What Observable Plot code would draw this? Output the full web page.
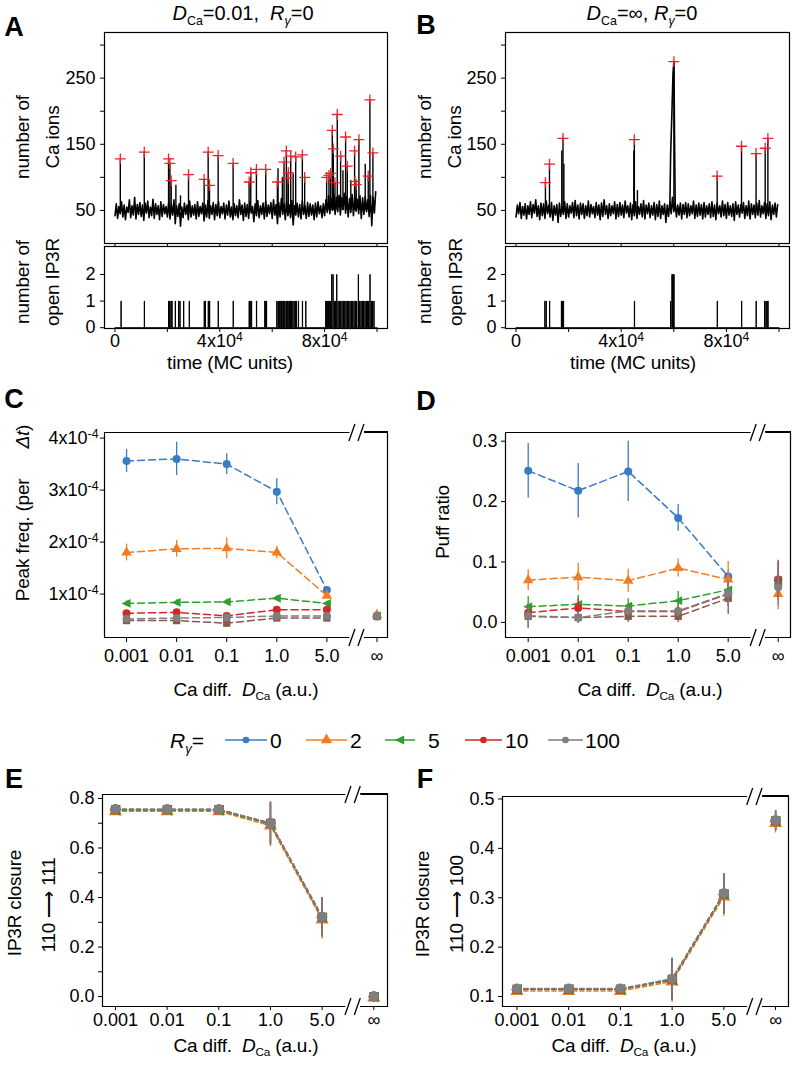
<!DOCTYPE html>
<html><head><meta charset="utf-8">
<script src="https://cdn.jsdelivr.net/npm/d3@7"></script>
<script src="https://cdn.jsdelivr.net/npm/@observablehq/plot@0.6"></script>
<style>
body{margin:0;background:#fff;}
#fig{position:relative;width:792px;height:1065px;font-family:"Liberation Sans",Arial,Helvetica,sans-serif;color:#000;overflow:hidden;background:#fff;}
.abs{position:absolute;white-space:nowrap;line-height:1;}
.letter{font-weight:bold;font-size:27px;}
.title{font-size:20px;}
.lab{font-size:19px;letter-spacing:-0.2px;}
.leg{font-size:21px;}
.sub{font-size:0.62em;position:relative;top:0.38em;}
.rframe{position:absolute;box-sizing:border-box;border:1.2px solid #000;border-left:0;z-index:10;pointer-events:none;}
</style></head><body><div id="fig"></div>
<script>
// ================= DATA =================
// Panels A/B : simulated traces (sampled every traceStep MC units)
const traceStep = 500;
const traceA = [42,60,38,56,45,63,40,58,36,55, 47,66,39,57,43,70,37,59,44,62, 41,58,35,61,46,64,39,55,42,67,
 38,60,44,57,36,63,41,59,45,56, 40,62,37,58,43,66,30,57,41,60, 26,55,39,61,44,58,36,64,40,57,
 43,59,37,63,41,56,45,61,34,58, 40,65,38,57,44,62,36,59,42,63, 39,56,45,61,37,58,43,64,40,55,
 36,60,42,57,39,66,44,58,35,61, 41,59,38,63,46,56,33,60,42,65, 39,57,44,61,37,64,41,58,45,62,
 38,66,43,59,30,62,40,68,44,60, 36,63,42,58,39,65,28,57,43,61, 40,59,37,64,44,57,38,62,41,60,
 43,58,36,61,40,63,45,57,39,60, 42,66,47,72,45,68,50,75,44,70, 48,73,43,69,51,76,46,71,40,68,
 47,74,42,70,49,67,45,72,38,69, 44,71,48,66,41,73,27,70,46,78];
const traceB = [40,58,45,62,38,56,43,60,37,57, 44,63,39,59,46,66,41,57,36,61, 42,60,38,64,45,58,40,62,35,57,
 43,59,32,61,41,56,44,63,38,60, 40,57,46,62,39,65,42,58,37,61, 44,60,38,57,42,64,40,59,45,56,
 39,62,43,58,36,61,41,66,44,57, 38,60,42,57,45,63,37,59,41,62, 43,58,39,64,46,57,40,61,36,59,
 42,63,38,56,44,60,40,65,37,58, 45,61,39,57,43,62,36,59,41,64, 38,57,44,60,32,58,41,63,45,70,
 48,62,40,58,43,61,37,59,44,62, 39,60,42,57,45,64,38,58,41,61, 43,59,37,62,40,57,44,60,39,63,
 41,58,36,61,45,57,40,64,42,59, 38,62,43,57,41,60,35,63,44,58, 40,59,46,62,38,57,42,64,37,60,
 44,58,39,61,43,65,40,57,45,62, 38,60,42,63,36,58,44,61,40,59];
// detected peaks (red crosses): [time, number of Ca ions]
const peaksA = [[2032,128],[11176,138],[20447,128],[20955,121],[21463,95],[28067,104],[34036,97],[35560,138],
 [36068,88],[39370,133],[45085,121],[51181,93],[51816,107],[53975,112],[57531,112],[61976,93],[64516,123],
 [65405,140],[66167,107],[66040,99],[67056,132],[68961,131],[71501,134],[72390,100],[80772,100],[81661,103],
 [82296,106],[82931,171],[83312,143],[83947,92],[84836,195],[86106,132],[88011,161],[88646,117],[91440,140],
 [91567,94],[92075,89],[93091,157],[96647,102],[97282,217],[98425,137]];
const minorSpikesA = [[23241,88],[25000,72],[62230,113],[63881,100],[68000,105],[87000,110],[90000,95],[95500,120]];
const peaksB = [[11185,92],[12728,120],[17871,159],[45000,157],[60044,275],[76496,102],[85751,147],[91284,136],
 [94755,144],[95784,159]];
const minorSpikesB = [[17400,140],[18200,120],[44800,140],[46165,80]];
const bigEventB = [[58500,55],[58800,135],[59300,200],[59700,258],[60044,275],[60300,150],[60550,55]];
// IP3R openings: [start time, number open]
const openDuration = 100;
const openA = [[2286,1],[11176,1],[20447,1],[20828,1],[21336,1],[21717,1],[22987,1],[24257,1],[24765,1],[26162,1],
 [28321,1],[34036,1],[34417,1],[35560,1],[36068,1],[39370,1],[45085,1],[51181,1],[51562,1],[52070,1],[53975,1],
 [57150,1],[57404,1],[57785,1],[61722,1],[62230,1],[62611,1],[62992,1],[63500,1],[64008,1],[64389,1],[64770,1],
 [65278,1],[65659,1],[66040,1],[66548,1],[66929,1],[67310,1],[67818,1],[68326,1],[68834,1],[69215,1],[69977,1],
 [71501,1],[72771,1],[80391,1],[80772,1],[81153,1],[81534,1],[81915,1],[82296,1],[82677,2],[83185,2],[83693,1],
 [84074,1],[84582,2],[85090,1],[85598,1],[86106,1],[86614,1],[87122,1],[87630,1],[88138,1],[88646,1],[89154,1],
 [89662,1],[90170,1],[90678,1],[91186,1],[91694,1],[92202,1],[92837,2],[93345,1],[93853,1],[94361,1],[94869,1],
 [95377,1],[95885,1],[96393,1],[96774,1],[97282,2],[97790,1],[98298,1],[98806,1]];
const openB = [[10928,1],[11442,1],[12728,1],[17228,1],[17613,1],[17999,1],[44998,1],[58755,1],[59270,2],
 [59520,2],[59770,2],[60020,2],[76497,1],[85755,1],[91284,1],[94497,1],[95011,1],[95397,1],[95782,1]];
const timeTicks = [0,20000,40000,60000,80000,100000];
const timeLabelTicks = [0,40000,80000];
const caTicks = [50,100,150,200,250,300];
const caLabelTicks = [50,150,250];
const ip3rTicks = [0,1,2];

// Panels C-F : summary statistics vs Ca diffusion (rows = R_gamma series)
const dcaCategories = ["0.001","0.01","0.1","1.0","5.0","∞"];
const finiteCount = 5;
const rgammaLabels = ["0","2","5","10","100"];
const seriesColors = ["#3a7cc3","#f47c20","#2ca02c","#d62728","#7f7f7f","#8c564b"];
const peakFreqMean = [
 [3.56e-4,3.60e-4,3.50e-4,2.97e-4,1.08e-4,0.57e-4],
 [1.80e-4,1.87e-4,1.88e-4,1.80e-4,0.97e-4,0.60e-4],
 [0.82e-4,0.84e-4,0.85e-4,0.92e-4,0.82e-4,0.58e-4],
 [0.63e-4,0.65e-4,0.58e-4,0.70e-4,0.70e-4,0.58e-4],
 [0.52e-4,0.54e-4,0.55e-4,0.58e-4,0.58e-4,0.58e-4],
 [0.49e-4,0.49e-4,0.44e-4,0.54e-4,0.54e-4,0.57e-4]];
const peakFreqErr = [
 [0.22e-4,0.32e-4,0.20e-4,0.25e-4,0.05e-4,0.03e-4],
 [0.16e-4,0.16e-4,0.20e-4,0.12e-4,0.05e-4,0.03e-4],
 [0.05e-4,0.05e-4,0.05e-4,0.05e-4,0.04e-4,0.03e-4],
 [0.05e-4,0.05e-4,0.05e-4,0.05e-4,0.04e-4,0.03e-4],
 [0.04e-4,0.04e-4,0.04e-4,0.04e-4,0.04e-4,0.03e-4],
 [0.04e-4,0.04e-4,0.04e-4,0.04e-4,0.04e-4,0.03e-4]];
const puffRatioMean = [
 [0.251,0.218,0.250,0.173,0.076,0.062],
 [0.070,0.075,0.069,0.090,0.071,0.047],
 [0.026,0.030,0.027,0.036,0.054,0.069],
 [0.016,0.024,0.018,0.018,0.047,0.071],
 [0.011,0.008,0.019,0.019,0.048,0.058],
 [0.010,0.008,0.010,0.010,0.040,0.070]];
const puffRatioErr = [
 [0.045,0.045,0.050,0.022,0.010,0.010],
 [0.017,0.023,0.019,0.015,0.030,0.026],
 [0.017,0.015,0.012,0.015,0.010,0.020],
 [0.015,0.015,0.012,0.012,0.020,0.030],
 [0.020,0.010,0.010,0.010,0.020,0.030],
 [0.020,0.010,0.010,0.010,0.027,0.033]];
const closure111Mean = [
 [0.755,0.755,0.755,0.700,0.322,0.000],
 [0.748,0.748,0.748,0.690,0.310,-0.005],
 [0.752,0.752,0.752,0.696,0.318,-0.002],
 [0.755,0.755,0.755,0.700,0.322,0.000],
 [0.757,0.755,0.755,0.700,0.322,0.000],
 [0.755,0.755,0.755,0.700,0.320,0.000]];
const closure111Err = [
 [0.005,0.005,0.005,0.085,0.078,0.004],
 [0.005,0.005,0.005,0.085,0.078,0.004],
 [0.005,0.005,0.005,0.085,0.078,0.004],
 [0.005,0.005,0.005,0.085,0.078,0.004],
 [0.005,0.005,0.005,0.085,0.078,0.004],
 [0.005,0.005,0.005,0.085,0.078,0.004]];
const closure100Mean = [
 [0.115,0.115,0.115,0.135,0.308,0.456],
 [0.111,0.111,0.111,0.130,0.302,0.451],
 [0.114,0.114,0.114,0.133,0.306,0.455],
 [0.115,0.115,0.115,0.135,0.308,0.456],
 [0.116,0.116,0.116,0.136,0.309,0.457],
 [0.115,0.115,0.115,0.135,0.308,0.456]];
const closure100Err = [
 [0.004,0.004,0.004,0.042,0.040,0.020],
 [0.004,0.004,0.004,0.042,0.040,0.020],
 [0.004,0.004,0.004,0.042,0.040,0.020],
 [0.004,0.004,0.004,0.042,0.040,0.020],
 [0.004,0.004,0.004,0.042,0.040,0.020],
 [0.004,0.004,0.004,0.042,0.040,0.020]];

// ================= DRAWING =================
const FONT = '"Liberation Sans", Arial, Helvetica, sans-serif';
const fig = document.getElementById("fig");
const STYLE = {fontFamily: FONT, fontSize: "18px", color: "black", background: "transparent", maxWidth: "none", overflow: "visible"};

function supify(svg){
  svg.querySelectorAll("text").forEach(t => {
    const s = t.textContent; const i = s.indexOf("^");
    if (i < 0 || t.children.length) return;
    t.textContent = s.slice(0, i);
    const ts = document.createElementNS("http://www.w3.org/2000/svg", "tspan");
    ts.setAttribute("dy", "-0.5em"); ts.setAttribute("font-size", "0.68em");
    ts.textContent = s.slice(i + 1);
    t.appendChild(ts);
  });
  return svg;
}
function place(svg, x, y){
  const d = document.createElement("div"); d.className = "abs";
  d.style.left = x + "px"; d.style.top = y + "px";
  d.appendChild(supify(svg)); fig.appendChild(d);
  const g = svg._rightFrame;
  if (g) { // right-hand piece of the broken frame, as an overlay box (border right/top/bottom)
    const r = document.createElement("div"); r.className = "rframe";
    r.style.left = (x + g.left) + "px"; r.style.top = (y + g.top - 0.6) + "px";
    r.style.width = (g.width + 0.6) + "px"; r.style.height = (g.height + 1.2) + "px";
    fig.appendChild(r);
  }
}
function label(html, x, y, cls, rot){
  const d = document.createElement("div"); d.className = "abs " + cls; d.innerHTML = html;
  d.style.left = x + "px"; d.style.top = y + "px";
  d.style.transform = "translate(-50%,-50%)" + (rot ? " rotate(-90deg)" : "");
  fig.appendChild(d);
}

const timeDomain = [-4000, 104000];
const RED = "#e8252b";

function tracePlot(trace, peaks, minor, extraLine, w, mr){
  const pts = trace.map((v, i) => ({t: i * traceStep, v}));
  const spikes = peaks.concat(minor).map(([t, v]) => ({t, v}));
  return Plot.plot({
    width: w, height: 252, marginLeft: 104, marginRight: mr, marginTop: 32, marginBottom: 9,
    style: STYLE,
    x: {domain: timeDomain, ticks: timeTicks, tickFormat: () => "", tickSize: 3, label: null},
    y: {domain: [0, 319], ticks: caTicks, tickFormat: d => caLabelTicks.includes(d) ? String(d) : "", tickSize: 4, tickPadding: 5, label: null},
    marks: [
      Plot.frame({stroke: "black", strokeWidth: 1.2}),
      Plot.line(pts, {x: "t", y: "v", stroke: "black", strokeWidth: 1.6}),
      Plot.ruleX(spikes, {x: "t", y1: () => 50, y2: "v", stroke: "black", strokeWidth: 1.4}),
      extraLine ? Plot.line(extraLine, {x: d => d[0], y: d => d[1], stroke: "black", strokeWidth: 1.6}) : null,
      Plot.dot(peaks, {x: d => d[0], y: d => d[1], symbol: "plus", stroke: RED, r: 3.6, strokeWidth: 1.3})
    ]
  });
}
function stepPoints(events){
  const pts = [{t: 0, n: 0}];
  for (const [t, n] of [...events].sort((a, b) => a[0] - b[0])) {
    pts.push({t, n: 0}, {t, n}, {t: t + openDuration, n}, {t: t + openDuration, n: 0});
  }
  pts.push({t: traceA.length * traceStep, n: 0});
  return pts;
}
function openPlot(events, w, mr){
  return Plot.plot({
    width: w, height: 140, marginLeft: 104, marginRight: mr, marginTop: 6, marginBottom: 52,
    style: STYLE,
    x: {domain: timeDomain, ticks: timeTicks, tickSize: 4, tickPadding: 2, label: null,
        tickFormat: d => !timeLabelTicks.includes(d) ? "" : d === 0 ? "0" : (d / 1e4) + "x10^4"},
    y: {domain: [-0.03, 3.05], ticks: ip3rTicks, tickFormat: d => String(d), tickSize: 4, tickPadding: 5, label: null},
    marks: [
      Plot.frame({stroke: "black", strokeWidth: 1.2}),
      Plot.line(stepPoints(events), {x: "t", y: "n", stroke: "black", strokeWidth: 1})
    ]
  });
}

// symbols
const leftTriangle = {draw(ctx, size){ const s = Math.sqrt(size / Math.PI);
  ctx.moveTo(-1.25 * s, 0); ctx.lineTo(1.0 * s, -1.1 * s); ctx.lineTo(1.0 * s, 1.1 * s); ctx.closePath(); }};
const seriesSymbols = ["circle", "triangle", leftTriangle, "circle", "circle", "square"];
const seriesR = [4, 3.9, 4, 4, 4, 4.1];
const drawOrder = [0, 1, 2, 3, 5, 4];
const breakGap = [5.44, 5.75];
const breakSlashes = [5.5, 5.68];

function catPanel(o){
  const [x0, x1] = o.xDomain, [y0, y1] = o.yDomain;
  const plotW = o.w - o.ml - o.mr, plotH = o.h - o.mt - o.mb;
  const dx = (x1 - x0) * 3 / plotW, dy = (y1 - y0) * 8.5 / plotH;
  const frameParts = [
    {p: "L", x: breakGap[0], y: y1}, {p: "L", x: x0, y: y1}, {p: "L", x: x0, y: y0}, {p: "L", x: breakGap[0], y: y0},
    {p: "R", x: breakGap[1], y: y1}, {p: "R", x: x1, y: y1}, {p: "R", x: x1, y: y0}, {p: "R", x: breakGap[1], y: y0}
  ];
  const slashes = [y0, y1].flatMap(ye => breakSlashes.map(xs => ({xa: xs - dx, xb: xs + dx, ya: ye - dy, yb: ye + dy})));
  const marks = [
    Plot.link(slashes, {x1: "xa", x2: "xb", y1: "ya", y2: "yb", stroke: "black", strokeWidth: 1.3}),
    Plot.line(frameParts, {x: "x", y: "y", z: "p", stroke: "black", strokeWidth: 1.2})
  ];
  for (const s of drawOrder) {
    const rows = o.means[s].map((y, k) => ({i: k + 1, y, e: o.errs[s][k]}));
    marks.push(Plot.ruleX(rows, {x: "i", y1: d => d.y - d.e, y2: d => d.y + d.e, stroke: seriesColors[s], strokeWidth: 1.3}));
    marks.push(Plot.line(rows.filter(d => d.i <= finiteCount), {x: "i", y: "y", stroke: seriesColors[s], strokeWidth: 1.5, strokeDasharray: o.dash}));
    marks.push(Plot.dot(rows, {x: "i", y: "y", symbol: seriesSymbols[s], fill: seriesColors[s], stroke: "none", r: seriesR[s] * o.rScale}));
  }
  const svg = Plot.plot({
    width: o.w, height: o.h, marginLeft: o.ml, marginRight: o.mr, marginTop: o.mt, marginBottom: o.mb,
    style: STYLE,
    x: {domain: o.xDomain, ticks: [1, 2, 3, 4, 5, 6], tickFormat: d => dcaCategories[d - 1], tickSize: o.xTickSize, tickPadding: o.xTickPad, label: null},
    y: {domain: o.yDomain, ticks: o.yTicks, tickFormat: o.yFormat, tickSize: 4, tickPadding: o.yTickPad, label: null},
    marks
  });
  // pixel box of the frame part right of the axis break
  const left = o.ml + (breakGap[1] - x0) / (x1 - x0) * plotW;
  svg._rightFrame = {left, top: o.mt, width: o.ml + plotW - left, height: plotH};
  return svg;
}

// ---- A & B ----
place(tracePlot(traceA, peaksA, minorSpikesA, null, 400, 13), 0, 0);
place(openPlot(openA, 400, 13), 0, 240);
place(tracePlot(traceB, peaksB, minorSpikesB, bigEventB, 391, 3), 401, 0);
place(openPlot(openB, 391, 3), 401, 240);

// ---- C & D ----
place(catPanel({means: peakFreqMean, errs: peakFreqErr, w: 400, h: 300, ml: 104, mr: 13, mt: 52, mb: 43,
  xDomain: [0.56, 6.21], yDomain: [0.165e-4, 4.108e-4], yTicks: [1e-4, 2e-4, 3e-4, 4e-4],
  yFormat: d => Math.round(d * 1e4) + "x10^-4", xTickSize: 5, xTickPad: 7, yTickPad: 2, dash: "7,4", rScale: 1}), 0, 380);
place(catPanel({means: puffRatioMean, errs: puffRatioErr, w: 391, h: 300, ml: 104, mr: 2, mt: 52, mb: 43,
  xDomain: [0.546, 6.246], yDomain: [-0.025, 0.3144], yTicks: [0, 0.1, 0.2, 0.3],
  yFormat: d3.format(".1f"), xTickSize: 5, xTickPad: 7, yTickPad: 4, dash: "7,4", rScale: 1}), 401, 380);

// ---- E & F ----
place(catPanel({means: closure111Mean, errs: closure111Err, w: 400, h: 305, ml: 102, mr: 13, mt: 34, mb: 59,
  xDomain: [0.749, 6.265], yDomain: [-0.04, 0.816], yTicks: [0, 0.1, 0.2, 0.3, 0.4, 0.5, 0.6, 0.7, 0.8],
  yFormat: d => Math.round(d * 10) % 2 === 0 ? d3.format(".1f")(d) : "", xTickSize: 4, xTickPad: 3, yTickPad: 4, dash: "4,3", rScale: 1.25}), 0, 760);
place(catPanel({means: closure100Mean, errs: closure100Err, w: 391, h: 305, ml: 101, mr: 4, mt: 36, mb: 59,
  xDomain: [0.721, 6.25], yDomain: [0.0798, 0.505], yTicks: [0.1, 0.2, 0.3, 0.4, 0.5],
  yFormat: d3.format(".1f"), xTickSize: 4, xTickPad: 3, yTickPad: 4, dash: "4,3", rScale: 1.25}), 401, 760);

// ---- text ----
const DCA = '<i>D</i><span class="sub">Ca</span>';
const RG = '<i>R</i><span class="sub"><i>γ</i></span>';
label("A", 14, 27, "letter"); label("B", 426, 25, "letter");
label("C", 14, 399, "letter"); label("D", 426, 401, "letter");
label("E", 14, 779, "letter"); label("F", 425, 779, "letter");
label(DCA + "=0.01,&nbsp;&nbsp;" + RG + "=0", 243, 13, "title");
label(DCA + "=∞, " + RG + "=0", 642, 13, "title");
label("number of", 22, 137, "lab", true); label("Ca ions", 52, 137, "lab", true);
label("number of", 22, 282, "lab", true); label("open IP3R", 52, 282, "lab", true);
label("number of", 424, 137, "lab", true); label("Ca ions", 454, 137, "lab", true);
label("number of", 424, 282, "lab", true); label("open IP3R", 455, 282, "lab", true);
label("time (MC units)", 230, 362, "lab"); label("time (MC units)", 633, 362, "lab");
label('Peak freq. (per<span style="display:inline-block;width:30px"></span><i>Δt</i>)', 22, 513, "lab", true);
label("Puff ratio", 442, 522, "lab", true);
const XL = 'Ca diff.&nbsp;&nbsp;' + DCA + ' (a.u.)';
label(XL, 246, 689, "lab"); label(XL, 650, 689, "lab");
label(XL, 246, 1045, "lab"); label(XL, 624, 1045, "lab");
label("IP3R closure", 14, 903, "lab", true); label("110 ⟶ 111", 48, 905, "lab", true);
label("IP3R closure", 422, 904, "lab", true); label("110 ⟶ 100", 456, 904, "lab", true);

// ---- legend ----
label(RG + "=", 187, 740, "leg");
const legLineX = [225, 306, 385, 465, 548];
const legLineW = [42, 41, 30, 37, 35];
const legTextX = [270, 350, 428, 505, 585];
const legR = [3.3, 4.2, 4.2, 3.3, 3.3];
rgammaLabels.forEach((name, s) => {
  const w = legLineW[s];
  const svg = d3.create("svg").attr("width", w).attr("height", 14).style("position", "absolute")
    .style("left", legLineX[s] + "px").style("top", "733px").style("overflow", "visible");
  svg.append("line").attr("x1", 0).attr("x2", w).attr("y1", 7).attr("y2", 7).attr("stroke", seriesColors[s]).attr("stroke-width", 1.5);
  const sym = seriesSymbols[s] === "circle" ? d3.symbolCircle : seriesSymbols[s] === "triangle" ? d3.symbolTriangle : seriesSymbols[s];
  svg.append("path").attr("d", d3.symbol(sym, Math.PI * legR[s] * legR[s])()).attr("transform", `translate(${w / 2},7)`).attr("fill", seriesColors[s]);
  fig.appendChild(svg.node());
  const d = document.createElement("div"); d.className = "abs leg"; d.textContent = name;
  d.style.left = legTextX[s] + "px"; d.style.top = "740px"; d.style.transform = "translate(0,-50%)";
  fig.appendChild(d);
});
</script></body></html>
